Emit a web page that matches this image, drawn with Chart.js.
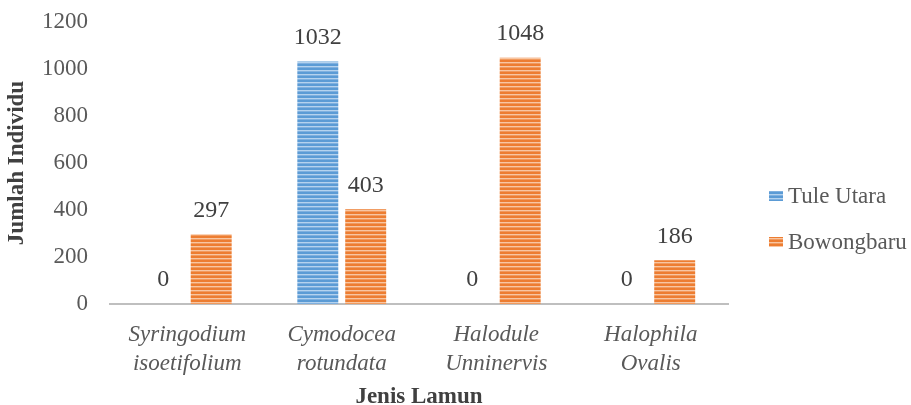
<!DOCTYPE html>
<html><head><meta charset="utf-8">
<script src="https://cdn.jsdelivr.net/npm/chart.js@4"></script>
<style>html,body{margin:0;padding:0;background:#fff}#wrap{width:911px;height:405px}</style>
</head><body><div id="wrap"><canvas id="c"></canvas></div>
<script>
const categories = [['Syringodium','isoetifolium'],['Cymodocea','rotundata'],['Halodule','Unninervis'],['Halophila','Ovalis']];
const seriesNames = ['Tule Utara','Bowongbaru'];
const tuleUtara = [0, 1032, 0, 0];
const bowongbaru = [297, 403, 1048, 186];
const yTicks = [0, 200, 400, 600, 800, 1000, 1200];

function stripe(dark, mid, light) {
  const c = document.createElement('canvas');
  c.width = 4; c.height = 4;
  const x = c.getContext('2d');
  const rows = [dark, dark, light, mid];
  rows.forEach((col, i) => { x.fillStyle = col; x.fillRect(0, i, 4, 1); });
  return x.createPattern(c, 'repeat');
}
const bluePat = stripe('#5b9bd5', '#7fb0df', '#b4d2ee');
const orangePat = stripe('#ed7d31', '#f19a5e', '#f8c6a2');

const FONT = "'Liberation Serif', 'Times New Roman', serif";
const labelPlugin = {
  id: 'vals',
  afterDatasetsDraw(chart) {
    const ctx = chart.ctx;
    ctx.save();
    ctx.font = '24px ' + FONT;
    ctx.fillStyle = '#404040';
    ctx.textAlign = 'center';
    ctx.textBaseline = 'middle';
    chart.data.datasets.forEach((ds, di) => {
      const meta = chart.getDatasetMeta(di);
      meta.data.forEach((bar, i) => {
        ctx.fillText(String(ds.data[i]), bar.x, bar.y - 24);
      });
    });
    ctx.restore();
  },
  afterDraw(chart) {
    // legend on the right
    const ctx = chart.ctx;
    const area = chart.chartArea;
    ctx.save();
    ctx.font = '23px ' + FONT;
    ctx.textAlign = 'left';
    ctx.textBaseline = 'middle';
    const boxX = area.right + 41;
    const startY = (area.top + area.bottom) / 2 + 33;
    chart.data.datasets.forEach((ds, i) => {
      const y = startY + i * 46;
      ctx.fillStyle = ds.backgroundColor;
      ctx.fillRect(boxX, y - 5, 14, 10);
      ctx.fillStyle = '#595959';
      ctx.fillText(ds.label, boxX + 19, y + 1);
    });
    ctx.restore();
  }
};

new Chart(document.getElementById('c'), {
  type: 'bar',
  data: {
    labels: categories,
    datasets: [
      { label: seriesNames[0], data: tuleUtara, backgroundColor: bluePat, borderWidth: 0 },
      { label: seriesNames[1], data: bowongbaru, backgroundColor: orangePat, borderWidth: 0 }
    ]
  },
  options: {
    responsive: true,
    maintainAspectRatio: false,
    animation: false,
    layout: { autoPadding: false, padding: { left: 3, right: 183, top: 22, bottom: 0 } },
    datasets: { bar: { categoryPercentage: 0.62, barPercentage: 0.855 } },
    scales: {
      x: {
        afterFit(s) { s.height = 101; },
        grid: { display: false, drawTicks: false },
        border: { display: true, color: '#bfbfbf', width: 2 },
        ticks: { color: '#595959', padding: 16, font: { family: FONT, size: 23, style: 'italic', lineHeight: 1.26 }, maxRotation: 0 },
        title: { display: true, text: 'Jenis Lamun', color: '#404040', padding: { top: 0, bottom: -4 }, font: { family: FONT, size: 23, weight: 'bold', lineHeight: 1 } }
      },
      y: {
        min: 0, max: 1200,
        afterFit(s) { s.width = 107; s.paddingTop = 0; s.paddingBottom = 0; },
        afterBuildTicks(s) { s.ticks = yTicks.map(v => ({ value: v })); },
        grid: { display: false, drawTicks: false },
        border: { display: false },
        ticks: { color: '#595959', padding: 22, font: { family: FONT, size: 23 }, callback: v => String(v) },
        title: { display: true, text: 'Jumlah Individu', color: '#404040', padding: { top: 0, bottom: 0 }, font: { family: FONT, size: 23, weight: 'bold' } }
      }
    },
    plugins: {
      legend: { display: false },
      tooltip: { enabled: false }
    }
  },
  plugins: [labelPlugin]
});
</script></body></html>
